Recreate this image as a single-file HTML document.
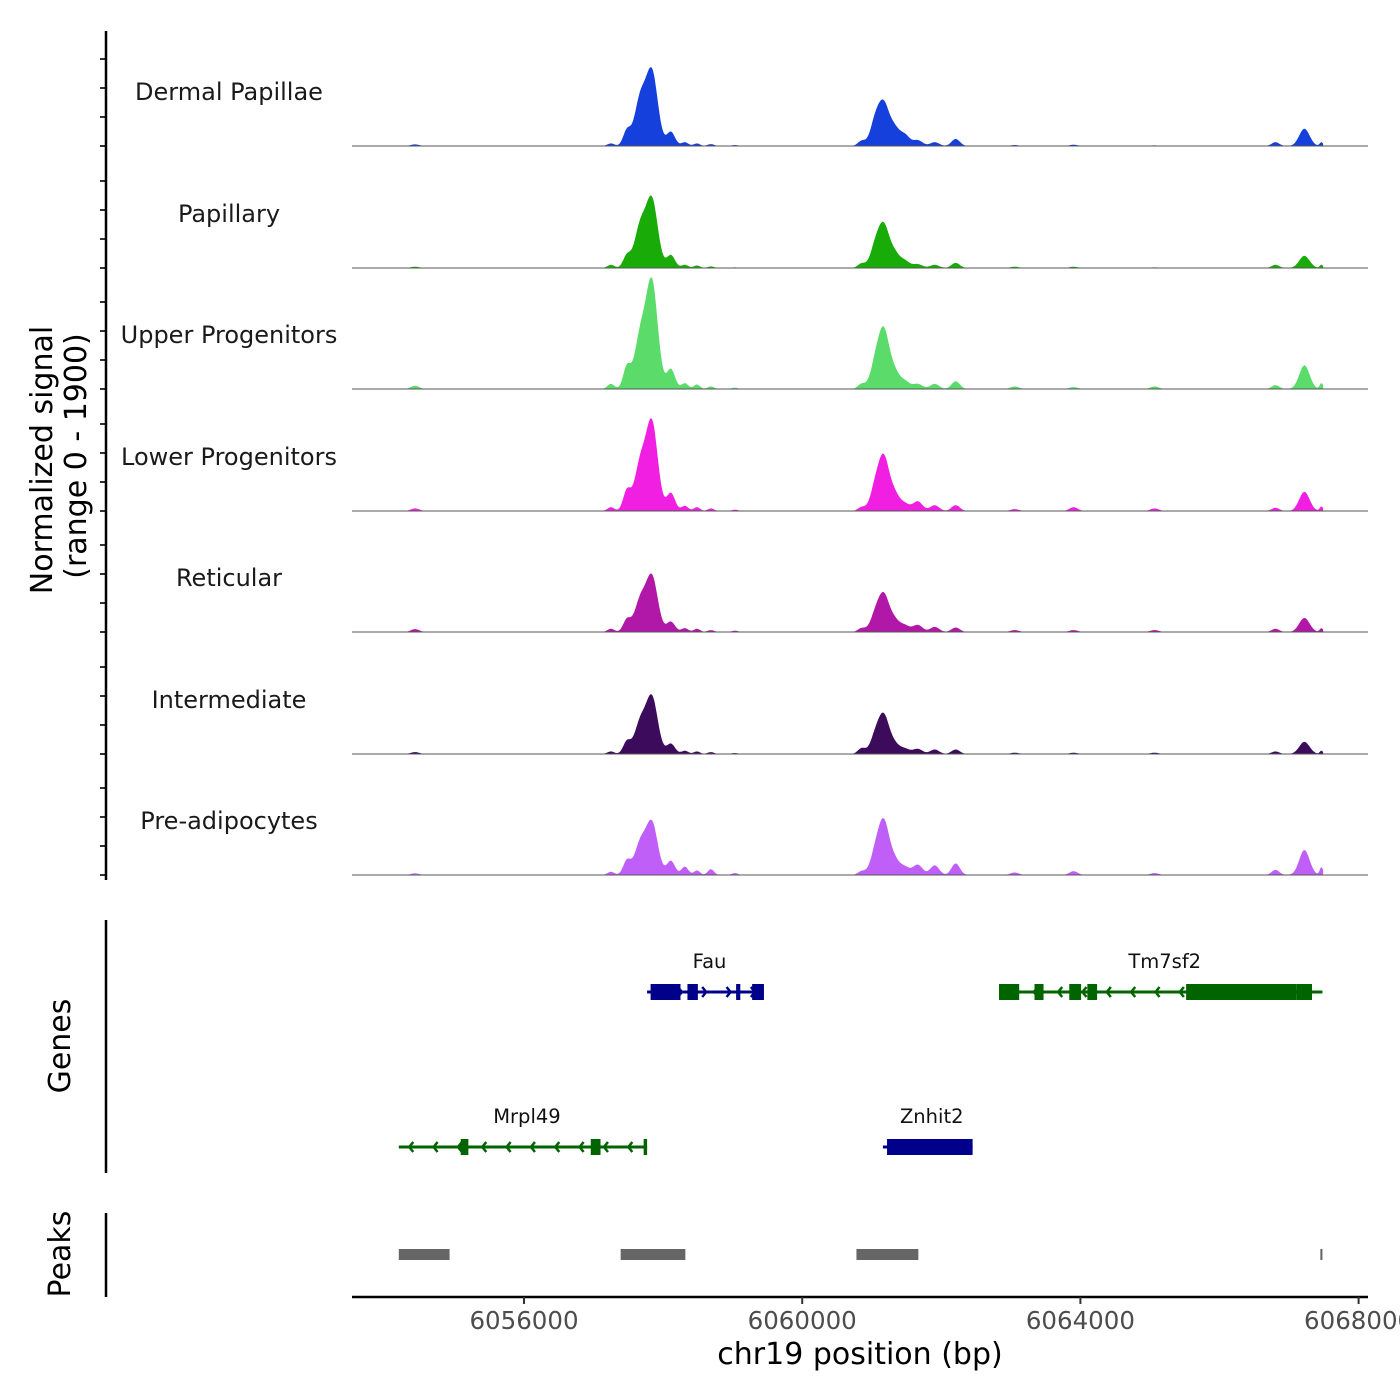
<!DOCTYPE html>
<html><head><meta charset="utf-8"><style>
html,body{margin:0;padding:0;background:#fff;width:1400px;height:1400px;overflow:hidden}
svg{display:block}
text{font-family:"DejaVu Sans","Liberation Sans",sans-serif}
</style></head><body>
<svg id="chart" width="1400" height="1400" viewBox="0 0 1400 1400" xmlns="http://www.w3.org/2000/svg">
<g id="tracks"></g>
<g id="genes"></g>
<g id="peaks"></g>
<g id="axes"></g>
</svg>
<script>
// ---- data ----
const trackNames = ["Dermal Papillae","Papillary","Upper Progenitors","Lower Progenitors","Reticular","Intermediate","Pre-adipocytes"];
const trackColors = ["#1640dc","#19ab08","#5bdc6a","#f01fe2","#b218a8","#3c0b5c","#c05ef8"];
const peakCenters = [6054434,6057250,6057480,6057667,6057839,6058112,6058313,6058486,6058687,6059032,6060856,6061043,6061172,6061330,6061474,6061661,6061905,6062207,6063055,6063902,6065066,6066805,6067221,6067466];
const peakWidths  = [60,50,55,80,85,60,50,45,45,45,55,70,80,70,70,70,65,60,60,60,60,55,75,25];
const sigDermal   = [25,40,235,700,1150,220,60,40,30,15,80,330,640,240,170,90,60,110,15,20,10,60,270,60];
const sigPapillary= [20,50,190,620,1060,200,50,40,25,10,70,280,650,200,110,60,50,80,20,20,10,50,190,50];
const sigUpper    = [50,80,340,780,1660,310,90,70,40,20,80,320,900,230,120,80,80,120,40,30,40,60,370,90];
const sigLower    = [40,60,310,700,1370,280,80,60,40,20,60,300,820,230,110,150,90,90,30,60,40,50,300,70];
const sigReticular= [45,50,190,470,860,160,60,50,30,20,60,220,570,160,100,110,80,70,30,30,30,50,220,60];
const sigIntermed = [30,40,190,470,880,160,50,40,30,15,90,230,590,130,80,80,70,70,20,20,20,40,190,50];
const sigPreadipo = [25,50,220,470,810,220,130,70,90,30,60,280,820,200,120,160,150,180,40,60,30,80,390,120];
const trackSignals = [sigDermal,sigPapillary,sigUpper,sigLower,sigReticular,sigIntermed,sigPreadipo];
const xTicks = [6056000,6060000,6064000,6068000];
const genesPlus  = [{name:"Fau",start:6057770,end:6059450,row:0,exons:[[6057820,6058250],[6058350,6058500],[6059050,6059110],[6059280,6059450]]},
                    {name:"Znhit2",start:6061160,end:6062450,row:1,exons:[[6061220,6062450]]}];
const genesMinus = [{name:"Tm7sf2",start:6062830,end:6067480,row:0,exons:[[6062830,6063120],[6063340,6063470],[6063840,6064010],[6064100,6064240],[6065520,6067110],[6067110,6067330]]},
                    {name:"Mrpl49",start:6054200,end:6057770,row:1,exons:[[6055090,6055200],[6056960,6057100],[6057720,6057770]]}];
const peakStarts = [6054200,6057390,6060780,6067450];
const peakEnds   = [6054930,6058320,6061670,6067480];

// ---- scales ----
const X0=6056000, PX0=524, PXPER=0.06955;
const xs = bp => PX0 + (bp - X0)*PXPER;
const baselines=[146,268,389,511,632,754,875];
const trackH = 121.5, maxSig = 1900;
const ys = (v,i) => baselines[i] - v/maxSig*trackH;
const NS="http://www.w3.org/2000/svg";
function mk(tag,attrs,parent){const e=document.createElementNS(NS,tag);for(const k in attrs)e.setAttribute(k,attrs[k]);parent.appendChild(e);return e;}

const tracks=document.getElementById('tracks');
const xStart=6053540, xEnd=6067490;
trackSignals.forEach((sig,i)=>{
  const g=mk('g',{},tracks);
  
  
  let d='M'+xs(xStart)+','+baselines[i];
  for(let bp=xStart;bp<=xEnd;bp+=10){
    let v=0;
    for(let k=0;k<peakCenters.length;k++){const z=(bp-peakCenters[k])/peakWidths[k];v+=sig[k]*Math.exp(-0.5*z*z);}
    if(v>maxSig)v=maxSig;
    d+=' L'+xs(bp).toFixed(1)+','+ys(v,i).toFixed(1);
  }
  d+=' L'+xs(xEnd)+','+baselines[i]+' Z';
  const p=mk('path',{d:d,fill:trackColors[i],stroke:'none'},g);
  
  
  const l=mk('line',{x1:352,x2:1368,y1:baselines[i],y2:baselines[i],stroke:'#555',"stroke-width":1},g);
  
  
  const t=mk('text',{x:229,y:baselines[i]-46,"text-anchor":"middle","font-size":24,fill:'#1a1a1a'},g);
  t.textContent=trackNames[i];
  
  
  for(let k=0;k<4;k++){
    const tk=mk('line',{x1:100,x2:106,y1:baselines[i]-29*k,y2:baselines[i]-29*k,stroke:'#333',"stroke-width":2},g);
    
    
  }
});

// genes
const genesG=document.getElementById('genes');
const rowY=[992,1147];
function drawGene(gn,strand,color){
  const g=mk('g',{},genesG);
  
  
  const y=rowY[gn.row];
  mk('line',{x1:xs(gn.start),x2:xs(gn.end),y1:y,y2:y,stroke:color,"stroke-width":3},g);
  for(let bp=gn.start+150;bp<gn.end;bp+=350){
    const x=xs(bp);
    const dx=strand>0?-4:4;
    mk('polyline',{points:(x+dx)+','+(y-5)+' '+x+','+y+' '+(x+dx)+','+(y+5),fill:'none',stroke:color,"stroke-width":2.5},g);
  }
  gn.exons.forEach(e=>{mk('rect',{x:xs(e[0]),y:y-8,width:Math.max(3,xs(e[1])-xs(e[0])),height:16,fill:color},g);});
  const t=mk('text',{x:(xs(gn.start)+xs(gn.end))/2+4,y:y-24,"text-anchor":"middle","font-size":19.5,fill:'#111'},g);
  t.textContent=gn.name;
  
  
}
genesPlus.forEach(g=>drawGene(g,1,'#00008b'));
genesMinus.forEach(g=>drawGene(g,-1,'#006400'));

// peaks
const peaksG=document.getElementById('peaks');
peakStarts.forEach((s,i)=>{
  const r=mk('rect',{x:xs(s),y:1249,width:Math.max(2,xs(peakEnds[i])-xs(s)),height:11,fill:'#666'},peaksG);
  
  
});

// axes
const ax=document.getElementById('axes');
[[31,880],[920,1173],[1213,1297]].forEach(a=>{
  const l=mk('line',{x1:106,x2:106,y1:a[0],y2:a[1],stroke:'#000',"stroke-width":2.5},ax);
  
  
});
const xl=mk('line',{x1:352,x2:1368,y1:1297,y2:1297,stroke:'#000',"stroke-width":2.5},ax);


xTicks.forEach(v=>{
  const tk=mk('line',{x1:xs(v),x2:xs(v),y1:1297,y2:1304,stroke:'#333',"stroke-width":2},ax);
  
  
  const t=mk('text',{x:xs(v),y:1329,"text-anchor":"middle","font-size":24.5,fill:'#4d4d4d'},ax);
  t.textContent=String(v);
  
  
});
function label(txt,x,y,size,rot,name){
  const t=mk('text',{x:x,y:y,"text-anchor":"middle","font-size":size,fill:'#000',transform:rot?('rotate(-90 '+x+' '+y+')'):''},ax);
  t.textContent=txt;
  
  
}
label('chr19 position (bp)',860,1364,30,false,'x-axis-title');
label('Normalized signal',52,460,30,true,'y-axis-title');
label('(range 0 - 1900)',86,456,30,true,'y-axis-subtitle');
label('Genes',70,1046,30,true,'genes-axis-title');
label('Peaks',70,1254,30,true,'peaks-axis-title');
</script>
</body></html>
